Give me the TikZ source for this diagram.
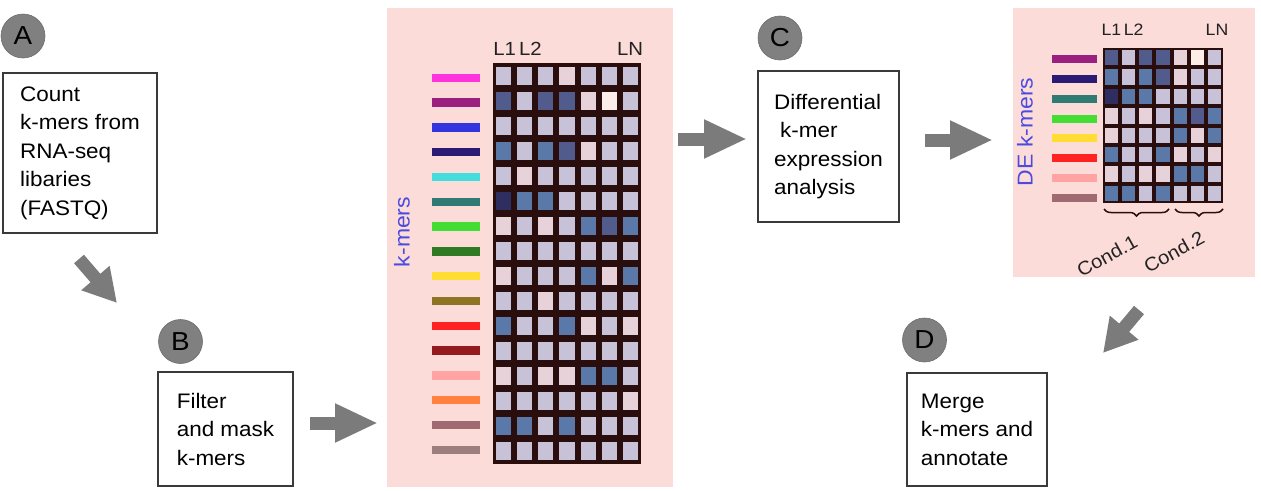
\documentclass[tikz,border=0pt]{standalone}
\usepackage{fontspec}
\setmainfont{Liberation Sans}[FakeStretch=1.07]
\usetikzlibrary{arrows.meta,decorations.pathreplacing}
\definecolor{boxgray}{HTML}{3A3A3A}
\definecolor{badgegray}{HTML}{808080}
\definecolor{arrowgray}{HTML}{7B7B7B}
\definecolor{panelpink}{HTML}{FBDCD9}
\definecolor{framebrown}{HTML}{2A0E0E}
\definecolor{kmerblue}{HTML}{4B4BE0}
\definecolor{lanetext}{HTML}{222222}
% heat-map cells
\definecolor{cellL}{HTML}{C8C2D8}
\definecolor{cellP}{HTML}{E8D2DA}
\definecolor{cellB}{HTML}{5A78A8}
\definecolor{cellM}{HTML}{525C8C}
\definecolor{cellD}{HTML}{2E2E60}
\definecolor{cellW}{HTML}{FBEDE8}
% k-mer colour bars
\definecolor{barmagenta}{HTML}{FF33DD}
\definecolor{barplum}{HTML}{9A1F7E}
\definecolor{barblue}{HTML}{3333E0}
\definecolor{barnavy}{HTML}{2B1B74}
\definecolor{barcyan}{HTML}{44DDDD}
\definecolor{barteal}{HTML}{2F7B74}
\definecolor{bargreen}{HTML}{44DD33}
\definecolor{barforest}{HTML}{2F7A22}
\definecolor{baryellow}{HTML}{FFDD33}
\definecolor{barolive}{HTML}{8C7422}
\definecolor{barred}{HTML}{FF2222}
\definecolor{barmaroon}{HTML}{941A1E}
\definecolor{barrose}{HTML}{FFA3A3}
\definecolor{barorange}{HTML}{FF8040}
\definecolor{barmauve}{HTML}{A06A72}
\definecolor{bartaupe}{HTML}{9C7E7E}

\begin{document}
\begin{tikzpicture}[
  x=1pt, y=-1pt,
  stage/.style={draw=boxgray, line width=1.1pt, fill=white, align=left, inner sep=0pt, font=\fontsize{21}{28.5}\selectfont},
  badge/.style={circle, fill=badgegray, draw=badgegray!85!black, line width=0.6pt, minimum size=44pt, inner sep=0pt, font=\fontsize{26}{26}\selectfont},
  flow/.style={-{Triangle[length=43pt, width=36pt]}, line width=13pt, draw=arrowgray},
  slantflow/.style={flow, -{Triangle[length=33pt, width=35pt]}},
  panel/.style={fill=panelpink, inner sep=0pt, outer sep=0pt},
  matframe/.style={fill=framebrown, inner sep=0pt, outer sep=0pt},
  lane/.style={anchor=base, text=lanetext, font=\fontsize{19}{19}\selectfont},
  axis/.style={rotate=90, text=kmerblue, font=\fontsize{21.5}{21.5}\selectfont},
  cond/.style={rotate=29, text=lanetext, font=\fontsize{19}{19}\selectfont},
  grp/.style={decorate, decoration={brace, mirror, amplitude=7pt}, line width=1.5pt, draw=framebrown},
]
  \useasboundingbox (0,0) rectangle (1261,490);
  % pink panels
  \node[panel, minimum width=286pt, minimum height=479pt] (kmerpanel) at (530,247.5) {};
  \node[panel, minimum width=242pt, minimum height=269pt] (depanel) at (1134,142.5) {};
  % stages
  \node[stage, minimum width=154pt, minimum height=160pt] (count) at (80,153) {Count\\k-mers from\\RNA-seq\\libaries\\(FASTQ)};
  \node[stage, minimum width=135pt, minimum height=114pt] (filter) at (225.5,429) {Filter\\and mask\\k-mers};
  \node[stage, minimum width=141pt, minimum height=151pt] (diffexp) at (828.5,146.5) {Differential\\\hspace*{6pt}k-mer\\expression\\analysis};
  \node[stage, minimum width=140pt, minimum height=113pt] (merge) at (977,429.5) {Merge\\k-mers and\\annotate};
  % step badges
  \node[badge] (badgeA) at (23,36) {A};
  \node[badge] (badgeB) at (180.5,341.5) {B};
  \node[badge] (badgeC) at (780,38) {C};
  \node[badge] (badgeD) at (924.5,340) {D};
  % flow arrows
  \coordinate (countout) at (79,259);   \coordinate (filterin) at (117,303);
  \coordinate (filterout) at (310,423); \coordinate (kmerin) at (378,423);
  \coordinate (kmerout) at (678,139);   \coordinate (diffin) at (747,139);
  \coordinate (diffout) at (925,140);   \coordinate (dein) at (993,140);
  \coordinate (deout) at (1139,310);    \coordinate (mergein) at (1103,353);
  \draw[slantflow] (countout) -- (filterin);
  \draw[flow] (filterout) -- (kmerin);
  \draw[flow] (kmerout) -- (diffin);
  \draw[flow] (diffout) -- (dein);
  \draw[slantflow] (deout) -- (mergein);
  % full k-mer count matrix
  \node[lane] (kmerl12) at (517.5,55) {L1\,L2};
  \node[lane] (kmerln) at (630,55) {LN};
  \node[axis] (kmerlab) at (402,232) {k-mers};
  \node[matframe, minimum width=148pt, minimum height=401pt] (kmermat) at (567,263.5) {};
  \foreach \col [count=\r] in {barmagenta,barplum,barblue,barnavy,barcyan,barteal,bargreen,barforest,
      baryellow,barolive,barred,barmaroon,barrose,barorange,barmauve,bartaupe} {
    \fill[\col] (432,{73.5+24.8*(\r-1)}) rectangle ++(48,8.5);
  }
  \foreach \vals [count=\r] in {{L,L,L,P,L,L,L},{M,L,M,M,P,W,L},{L,L,L,L,L,L,L},{B,L,B,M,P,L,L},
      {L,P,L,L,L,L,L},{D,B,B,L,L,L,L},{P,L,P,L,B,M,B},{L,L,L,L,L,L,L},
      {P,L,L,L,B,P,B},{L,L,P,L,L,L,L},{B,L,L,B,P,L,P},{L,L,L,L,L,L,L},
      {P,L,P,P,B,B,L},{L,L,L,L,L,L,P},{B,B,L,B,L,L,L},{L,L,L,L,L,L,L}} {
    \foreach \v [count=\k] in \vals {
      \fill[cell\v] ({496+21.14*(\k-1)}, {66.5+25.06*(\r-1)}) rectangle ++(15.1,18);
    }
  }
  % differentially expressed k-mers
  \node[lane, font=\fontsize{16.5}{16.5}\selectfont] (del12) at (1122.5,35) {L1\,L2};
  \node[lane, font=\fontsize{16.5}{16.5}\selectfont] (deln) at (1217,35) {LN};
  \node[axis] (delab) at (1025,132) {DE k-mers};
  \node[matframe, minimum width=120pt, minimum height=155pt] (demat) at (1163,125.5) {};
  \foreach \col [count=\r] in {barplum,barnavy,barteal,bargreen,baryellow,barred,barrose,barmauve} {
    \fill[\col] (1052,{55+19.86*(\r-1)}) rectangle ++(45,8);
  }
  \foreach \vals [count=\r] in {{M,L,M,M,P,W,L},{B,L,B,M,P,L,L},{D,B,B,L,L,L,L},{P,L,P,L,B,M,B},
      {P,L,L,L,B,P,B},{B,L,L,B,P,L,P},{P,L,P,P,B,B,L},{B,B,L,B,L,L,L}} {
    \foreach \v [count=\k] in \vals {
      \fill[cell\v] ({1105+17.14*(\k-1)}, {50+19.375*(\r-1)}) rectangle ++(13.1,15.4);
    }
  }
  \draw[grp] (1104,209) -- (1169,209);
  \draw[grp] (1175,209) -- (1223,209);
  \node[cond] (cond1) at (1107,256) {Cond.1};
  \node[cond] (cond2) at (1174,252) {Cond.2};
\end{tikzpicture}
\end{document}
